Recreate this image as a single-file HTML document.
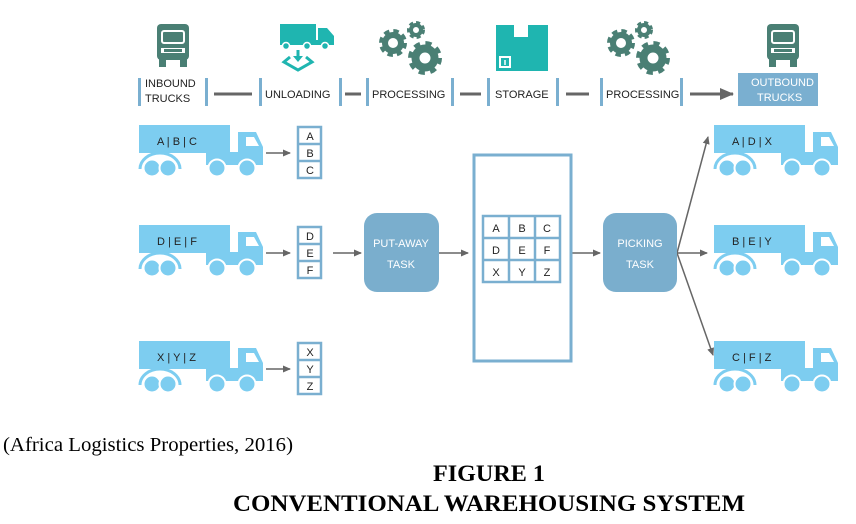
<!DOCTYPE html>
<html><head><meta charset="utf-8"><style>
html,body{margin:0;padding:0;background:#fff;width:856px;height:524px;overflow:hidden}
svg{display:block}
.s{font-family:"Liberation Sans",sans-serif;font-size:11px;fill:#222}
.w{font-family:"Liberation Sans",sans-serif;font-size:11px;fill:#fff}
.t{font-family:"Liberation Serif",serif}
</style></head><body>
<svg width="856" height="524" viewBox="0 0 856 524" xmlns="http://www.w3.org/2000/svg">
<defs>
<marker id="ah" markerWidth="8" markerHeight="8" refX="7" refY="4" orient="auto" markerUnits="userSpaceOnUse"><path d="M0,0.5 L8,4 L0,7.5 Z" fill="#666"/></marker>
<marker id="ah2" markerWidth="14" markerHeight="12" refX="13" refY="6" orient="auto" markerUnits="userSpaceOnUse"><path d="M0,0 L14,6 L0,12 Z" fill="#666"/></marker>
<g id="truck">
<rect x="0" y="0" width="91" height="28" fill="#7dcdf0"/>
<path d="M99,7 L117,7 L124,22 L124,40 L67,40 L67,27 L99,27 Z" fill="#7dcdf0"/>
<path d="M107,12 L115,12 L120,21 L107,21 Z" fill="#fff"/>
<path d="M1,44 A20,16 0 0 1 41,44" fill="none" stroke="#7dcdf0" stroke-width="3"/>
<circle cx="13" cy="43" r="8.5" fill="#7dcdf0" stroke="#fff" stroke-width="2"/>
<circle cx="29" cy="43" r="8.5" fill="#7dcdf0" stroke="#fff" stroke-width="2"/>
<circle cx="78" cy="43" r="8.5" fill="#7dcdf0" stroke="#fff" stroke-width="2"/>
<circle cx="108" cy="43" r="8.5" fill="#7dcdf0" stroke="#fff" stroke-width="2"/>
</g>
<g id="dtruck">
<rect x="-16" y="-20" width="32" height="36" rx="4" fill="#4a7f74"/>
<rect x="-11" y="-13" width="22" height="12" rx="2" fill="none" stroke="#fff" stroke-width="2"/>
<rect x="-12" y="4" width="24" height="5" fill="#fff"/>
<rect x="-9" y="5" width="18" height="3" fill="#4a7f74"/>
<rect x="-14" y="15" width="7" height="8" fill="#4a7f74"/>
<rect x="7" y="15" width="7" height="8" fill="#4a7f74"/>
</g>
</defs>

<!-- top icons -->
<use href="#dtruck" x="173" y="44"/>
<use href="#dtruck" x="783" y="44"/>
<!-- unloading -->
<rect x="280" y="24" width="36" height="18" fill="#1fb5b0"/>
<path d="M318,28 L327,28 L334,36 L334,45 L318,45 Z" fill="#1fb5b0"/>
<rect x="280" y="40" width="54" height="5" fill="#1fb5b0"/>
<circle cx="286" cy="46" r="3.5" fill="#1fb5b0" stroke="#fff" stroke-width="1.5"/>
<circle cx="307" cy="46" r="3.5" fill="#1fb5b0" stroke="#fff" stroke-width="1.5"/>
<circle cx="325" cy="46" r="3.5" fill="#1fb5b0" stroke="#fff" stroke-width="1.5"/>
<path d="M298,50 L298,58" stroke="#1fb5b0" stroke-width="3"/>
<path d="M293,56 L298,62 L303,56 Z" fill="#1fb5b0"/>
<path d="M290,57 L284,62 L298,70 L312,62 L306,57" fill="none" stroke="#1fb5b0" stroke-width="3"/>
<!-- gears -->
<g fill="#4a7f74" stroke="#4a7f74">
<circle cx="393" cy="43" r="10" stroke-width="8" stroke-dasharray="4.5 3.35" fill="#fff"/>
<circle cx="393" cy="43" r="8" stroke-width="6" fill="none"/>
<circle cx="416" cy="30" r="6.5" stroke-width="5" stroke-dasharray="3.5 2.6" fill="#fff"/>
<circle cx="416" cy="30" r="5" stroke-width="4" fill="none"/>
<circle cx="425" cy="58" r="12" stroke-width="10" stroke-dasharray="5 4.42" fill="#fff"/>
<circle cx="425" cy="58" r="9.5" stroke-width="8" fill="none"/>
<circle cx="621" cy="43" r="10" stroke-width="8" stroke-dasharray="4.5 3.35" fill="#fff"/>
<circle cx="621" cy="43" r="8" stroke-width="6" fill="none"/>
<circle cx="644" cy="30" r="6.5" stroke-width="5" stroke-dasharray="3.5 2.6" fill="#fff"/>
<circle cx="644" cy="30" r="5" stroke-width="4" fill="none"/>
<circle cx="653" cy="58" r="12" stroke-width="10" stroke-dasharray="5 4.42" fill="#fff"/>
<circle cx="653" cy="58" r="9.5" stroke-width="8" fill="none"/>
</g>
<!-- storage -->
<rect x="496" y="25" width="52" height="46" fill="#1fb5b0"/>
<rect x="514" y="25" width="14" height="12" fill="#fff"/>
<rect x="499" y="56" width="12" height="12" fill="#fff"/>
<rect x="501" y="58" width="8" height="8" fill="#1fb5b0"/>
<path d="M505,60 L505,65" stroke="#fff" stroke-width="1.5"/>

<!-- process bar -->
<g fill="#7aafd0">
<rect x="138" y="78" width="3" height="28"/><rect x="205" y="78" width="3" height="28"/>
<rect x="259" y="78" width="3" height="28"/><rect x="339" y="78" width="3" height="28"/>
<rect x="366" y="78" width="3" height="28"/><rect x="451" y="78" width="3" height="28"/>
<rect x="487" y="78" width="3" height="28"/><rect x="556" y="78" width="3" height="28"/>
<rect x="600" y="78" width="3" height="28"/><rect x="680" y="78" width="3" height="28"/>
<rect x="738" y="73" width="80" height="33"/>
</g>
<g stroke="#666" stroke-width="3">
<line x1="214" y1="94" x2="252" y2="94"/><line x1="345" y1="94" x2="361" y2="94"/>
<line x1="460" y1="94" x2="481" y2="94"/><line x1="566" y1="94" x2="589" y2="94"/>
<line x1="690" y1="94" x2="733" y2="94" marker-end="url(#ah2)"/>
</g>
<text class="s" x="145" y="87">INBOUND</text><text class="s" x="145" y="102">TRUCKS</text>
<text class="s" x="265" y="98">UNLOADING</text>
<text class="s" x="372" y="98">PROCESSING</text>
<text class="s" x="495" y="98">STORAGE</text>
<text class="s" x="606" y="98">PROCESSING</text>
<text class="w" x="751" y="86">OUTBOUND</text><text class="w" x="757" y="101">TRUCKS</text>

<!-- left trucks -->
<use href="#truck" x="139" y="125"/>
<use href="#truck" x="139" y="225"/>
<use href="#truck" x="139" y="341"/>
<text class="s" x="157" y="145">A | B | C</text>
<text class="s" x="157" y="245">D | E | F</text>
<text class="s" x="157" y="361">X | Y | Z</text>
<g stroke="#666" stroke-width="1.5" marker-end="url(#ah)">
<line x1="266" y1="153" x2="290" y2="153"/>
<line x1="266" y1="253" x2="290" y2="253"/>
<line x1="266" y1="369" x2="290" y2="369"/>
<line x1="333" y1="253" x2="361" y2="253"/>
<line x1="439" y1="253" x2="468" y2="253"/>
<line x1="571" y1="253" x2="600" y2="253"/>
<line x1="677" y1="253" x2="708" y2="137"/>
<line x1="677" y1="253" x2="707" y2="253"/>
<line x1="677" y1="253" x2="713" y2="355"/>
</g>
<!-- slot columns -->
<g fill="#fff" stroke="#7aafd0" stroke-width="2.5">
<rect x="298" y="127" width="23" height="51"/><line x1="298" y1="144" x2="321" y2="144"/><line x1="298" y1="161" x2="321" y2="161"/>
<rect x="298" y="227" width="23" height="51"/><line x1="298" y1="244" x2="321" y2="244"/><line x1="298" y1="261" x2="321" y2="261"/>
<rect x="298" y="343" width="23" height="51"/><line x1="298" y1="360" x2="321" y2="360"/><line x1="298" y1="377" x2="321" y2="377"/>
</g>
<g class="s" text-anchor="middle">
<text x="310" y="140">A</text><text x="310" y="157">B</text><text x="310" y="174">C</text>
<text x="310" y="240">D</text><text x="310" y="257">E</text><text x="310" y="274">F</text>
<text x="310" y="356">X</text><text x="310" y="373">Y</text><text x="310" y="390">Z</text>
</g>
<!-- tasks -->
<rect x="364" y="213" width="75" height="79" rx="13" fill="#7aaecd"/>
<text class="w" x="401" y="247" text-anchor="middle">PUT-AWAY</text>
<text class="w" x="401" y="268" text-anchor="middle">TASK</text>
<rect x="603" y="213" width="74" height="79" rx="13" fill="#7aaecd"/>
<text class="w" x="640" y="247" text-anchor="middle">PICKING</text>
<text class="w" x="640" y="268" text-anchor="middle">TASK</text>
<!-- storage big -->
<rect x="474" y="155" width="97" height="206" fill="#fff" stroke="#7aafd0" stroke-width="3"/>
<g fill="#fff" stroke="#7aafd0" stroke-width="2.5">
<rect x="483" y="216" width="77" height="66"/>
<line x1="509" y1="216" x2="509" y2="282"/><line x1="535" y1="216" x2="535" y2="282"/>
<line x1="483" y1="238" x2="560" y2="238"/><line x1="483" y1="260" x2="560" y2="260"/>
</g>
<g class="s" text-anchor="middle">
<text x="496" y="232">A</text><text x="522" y="232">B</text><text x="547" y="232">C</text>
<text x="496" y="254">D</text><text x="522" y="254">E</text><text x="547" y="254">F</text>
<text x="496" y="276">X</text><text x="522" y="276">Y</text><text x="547" y="276">Z</text>
</g>
<!-- right trucks -->
<use href="#truck" x="714" y="125"/>
<use href="#truck" x="714" y="225"/>
<use href="#truck" x="714" y="341"/>
<text class="s" x="732" y="145">A | D | X</text>
<text class="s" x="732" y="245">B | E | Y</text>
<text class="s" x="732" y="361">C | F | Z</text>

<!-- captions -->
<text class="t" x="3" y="451" font-size="20" textLength="290" lengthAdjust="spacingAndGlyphs">(Africa Logistics Properties, 2016)</text>
<text class="t" x="433" y="481" font-size="23" font-weight="bold" textLength="112" lengthAdjust="spacingAndGlyphs">FIGURE 1</text>
<text class="t" x="233" y="511" font-size="23" font-weight="bold" textLength="512" lengthAdjust="spacingAndGlyphs">CONVENTIONAL WAREHOUSING SYSTEM</text>
</svg>
</body></html>
